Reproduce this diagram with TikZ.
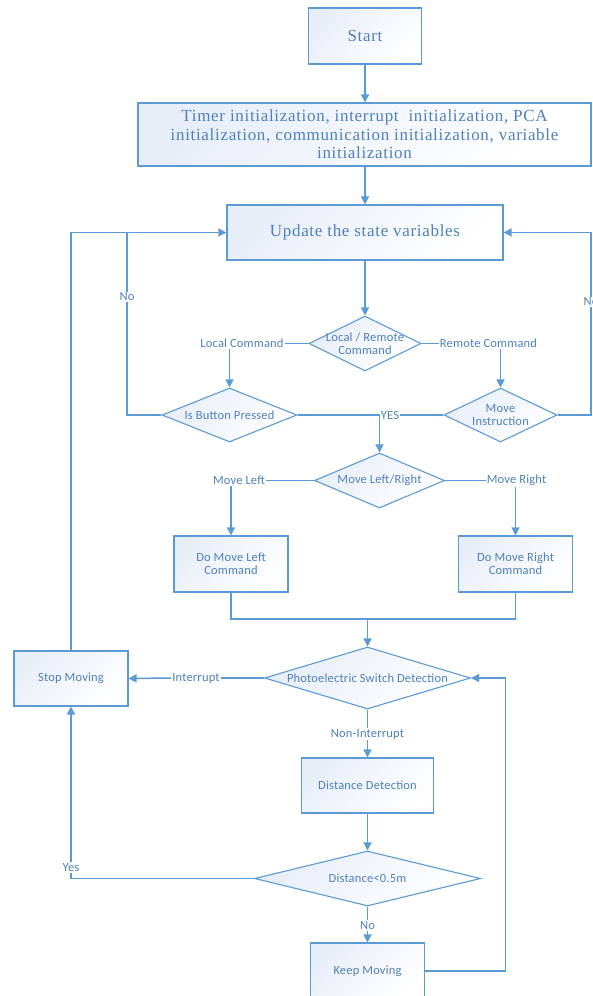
\documentclass[tikz,border=0pt]{standalone}
\usepackage{fontspec}
\setmainfont{Liberation Serif}[LetterSpace=4]
\newfontfamily\lblfont{Carlito}[LetterSpace=1.5]
\usetikzlibrary{shapes.geometric,arrows.meta}
\definecolor{linec}{HTML}{5B9BD5}
\definecolor{textc}{HTML}{4F81BD}
\definecolor{fillc}{HTML}{E8EEF8}
\begin{document}
\begin{tikzpicture}[x=1pt,y=-1pt,
  box/.style={draw=linec, line width=1.1pt, top color=fillc, bottom color=white, shading angle=45, inner sep=0pt, text=textc, align=center},
  dia/.style={diamond, draw=linec, line width=1.1pt, top color=fillc, bottom color=white, shading angle=45, inner sep=0pt},
  serif/.style={font=\fontsize{17}{18.5}\selectfont},
  sans/.style={font=\lblfont\fontsize{12.5}{13}\selectfont, text=textc, align=center},
  dtext/.style={sans, inner sep=0pt},
  lbl/.style={sans, fill=white, inner sep=1pt},
  conn/.style={draw=linec, line width=1.5pt},
  arr/.style={conn, -{Triangle[width=8pt,length=8pt]}}]
\useasboundingbox (0,0) rectangle (593,996);
% boxes
\node[box, serif, minimum width=113, minimum height=56] (start) at (365,36) {Start};
\node[box, serif, minimum width=453, minimum height=63] (init) at (364.5,134.5) {Timer initialization, interrupt\ \ initialization, PCA\\initialization, communication initialization, variable\\initialization};
\node[box, serif, minimum width=276, minimum height=55] (update) at (365,232.5) {Update the state variables};
% diamonds
\node[dia, minimum width=112, minimum height=55] (lr) at (365,343.5) {};
\node[dtext] (lrt) at (lr.center) {Local / Remote\\Command};
\node[dia, minimum width=135, minimum height=54] (ibp) at (229.5,415) {};
\node[dtext] (ibpt) at (ibp.center) {Is Button Pressed};
\node[dia, minimum width=113, minimum height=54] (mi) at (500.5,415) {};
\node[dtext] (mit) at (mi.center) {Move\\Instruction};
\node[dia, minimum width=130, minimum height=55] (mlr) at (379.5,480.5) {};
\node[dtext] (mlrt) at (mlr.center) {Move Left/Right};
\node[box, sans, minimum width=114, minimum height=56] (dml) at (231,564) {Do Move Left\\Command};
\node[box, sans, minimum width=114, minimum height=56] (dmr) at (515.5,564) {Do Move Right\\Command};
\node[dia, minimum width=206, minimum height=62] (psd) at (367.5,678) {};
\node[dtext] (psdt) at (psd.center) {Photoelectric Switch Detection};
\node[box, sans, minimum width=114, minimum height=55] (stop) at (71,678.5) {Stop Moving};
\node[box, sans, minimum width=132, minimum height=55] (dd) at (367.5,785.5) {Distance Detection};
\node[dia, minimum width=226, minimum height=55] (dist) at (367.5,878.5) {};
\node[dtext] (distt) at (dist.center) {Distance<0.5m};
\node[box, sans, minimum width=114, minimum height=56] (km) at (367.5,971) {Keep Moving};
% labels
\node[lbl] (lc) at (242,343.5) {Local Command};
\node[lbl] (rc) at (488.5,343.5) {Remote Command};
\node[lbl] (yes) at (390,415) {YES};
\node[lbl] (no1) at (127,297) {No};
\node[lbl] (no2) at (591,302) {No};
\node[lbl] (ml) at (239,480.5) {Move Left};
\node[lbl] (mr) at (516.5,480.5) {Move Right};
\node[lbl] (int) at (196,678) {Interrupt};
\node[lbl] (ni) at (367.5,734) {Non-Interrupt};
\node[lbl] (yes2) at (71,867.5) {Yes};
\node[lbl] (no3) at (367.5,925.5) {No};
\coordinate (m) at (367.5,619);
\coordinate (kr) at (505.5,971);
% connectors
\draw[arr] (start.south) -- (start.south |- init.north);
\draw[arr] (init.south -| update.north) -- (update.north);
\draw[arr] (update.south) -- (update.south |- lr.north);
\draw[conn] (lr.west) -- (lc.east);
\draw[arr] (lc.south -| ibp.north) -- (ibp.north);
\draw[conn] (lr.east) -- (rc.west);
\draw[arr] (rc.south -| mi.north) -- (mi.north);
\draw[conn] (ibp.east) -- (yes.west);
\draw[conn] (mi.west) -- (yes.east);
\draw[arr] (mlr.north |- ibp.east) -- (mlr.north);
\draw[conn] (mlr.west) -- (ml.east);
\draw[arr] (ml.south -| dml.north) -- (dml.north);
\draw[conn] (mlr.east) -- (mr.west);
\draw[arr] (mr.south -| dmr.north) -- (dmr.north);
\draw[conn] (dml.south) |- (m) -| (dmr.south);
\draw[arr] (m) -- (m |- psd.north);
\draw[conn] (psd.west) -- (int.east);
\draw[arr] (int.west) -- (stop.east);
\draw[arr] (stop.north) |- (update.west);
\draw[conn] (ibp.west) -| (no1.south);
\draw[conn] (no1.north) -- (no1.north |- update.west);
\draw[conn] (mi.east) -| (no2.south);
\draw[arr] (no2.north) |- (update.east);
\draw[conn] (psd.south) -- (ni.north);
\draw[arr] (ni.south) -- (dd.north);
\draw[arr] (dd.south) -- (dist.north);
\draw[conn] (dist.west) -| (yes2.south);
\draw[arr] (yes2.north) -- (stop.south);
\draw[conn] (dist.south) -- (no3.north);
\draw[arr] (no3.south) -- (km.north);
\draw[arr] (km.east) -| (kr |- psd.east) -- (psd.east);
\end{tikzpicture}
\end{document}
